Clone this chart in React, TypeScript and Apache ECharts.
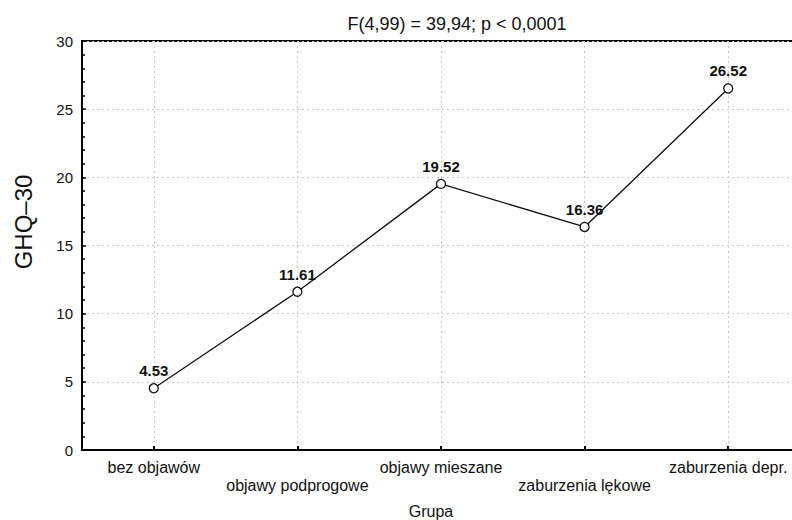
import React, { useEffect, useRef } from "react";
import * as echarts from "echarts";

const categories = [
  "bez objawów",
  "objawy podprogowe",
  "objawy mieszane",
  "zaburzenia lękowe",
  "zaburzenia depr.",
];
const means = [4.53, 11.61, 19.52, 16.36, 26.52];
const yTicks = { min: 0, max: 30, interval: 5 };
const titleText = "F(4,99) = 39,94; p < 0,0001";
const yName = "GHQ–30";
const xName = "Grupa";

const FONT = "'Liberation Sans', Arial, sans-serif";

export default function App() {
  const ref = useRef<HTMLDivElement>(null);
  useEffect(() => {
    if (!ref.current) return;
    const chart = echarts.init(ref.current, null, { renderer: "svg" });
    chart.setOption({
      animation: false,
      backgroundColor: "#ffffff",
      textStyle: { fontFamily: FONT },
      title: {
        text: titleText,
        left: 452,
        top: 10,
        textAlign: "center",
        textStyle: { fontSize: 18, fontWeight: "normal", color: "#111", fontFamily: FONT },
      },
      graphic: [
        {
          type: "text",
          x: 23,
          y: 222,
          rotation: Math.PI / 2,
          style: {
            text: yName,
            fontSize: 24,
            fontFamily: FONT,
            fill: "#111",
            textAlign: "center",
            textVerticalAlign: "middle",
          },
        },
      ],
      grid: {
        left: 82,
        top: 41,
        width: 718,
        bottom: 70,
        outerBoundsMode: "none",
        containLabel: false,
        show: true,
        borderColor: "#000",
        borderWidth: 2,
      },
      xAxis: {
        type: "category",
        data: categories,
        boundaryGap: true,
        name: xName,
        nameLocation: "middle",
        nameGap: 53,
        nameTextStyle: { fontSize: 16, color: "#111", fontFamily: FONT, padding: [0, 0, 0, -20] },
        axisLine: { lineStyle: { color: "#000", width: 2 } },
        axisTick: { show: true, inside: true, alignWithLabel: true, length: 4, lineStyle: { color: "#000", width: 2 } },
        axisLabel: {
          fontSize: 16,
          color: "#111",
          fontFamily: FONT,
          margin: 8,
          lineHeight: 18,
          interval: 0,
          hideOverlap: false,
          formatter: (v: string, i: number) => (i % 2 === 1 ? "\n" + v : v),
        },
        splitLine: {
          show: true,
          alignWithLabel: true,
          lineStyle: { color: "#c8c8c8", type: [2, 3], width: 1 },
        },
      },
      yAxis: {
        type: "value",
        min: yTicks.min,
        max: yTicks.max,
        interval: yTicks.interval,
        axisLine: { show: true, lineStyle: { color: "#000", width: 2 } },
        axisTick: { show: true, inside: true, length: 4, lineStyle: { color: "#000", width: 1.5 } },
        minorTick: { show: true, splitNumber: 5, length: 3, lineStyle: { color: "#000", width: 1.5 } },
        axisLabel: { fontSize: 15, color: "#111", fontFamily: FONT, margin: 9 },
        splitLine: { show: true, lineStyle: { color: "#c8c8c8", type: [2, 3], width: 1 } },
      },
      series: [
        {
          type: "line",
          data: means,
          symbol: "circle",
          symbolSize: 9,
          lineStyle: { color: "#111", width: 1.3 },
          itemStyle: { color: "#fff", borderColor: "#111", borderWidth: 1.3 },
          label: {
            show: true,
            position: "top",
            distance: 5,
            fontSize: 15,
            fontWeight: "bold",
            color: "#111",
            fontFamily: FONT,
            formatter: (p: any) => p.value.toFixed(2),
          },
          z: 5,
        },
      ],
    });
    return () => chart.dispose();
  }, []);
  return (
    <div
      ref={ref}
      style={{ position: "fixed", left: 0, top: 0, width: 792, height: 520 }}
    />
  );
}
